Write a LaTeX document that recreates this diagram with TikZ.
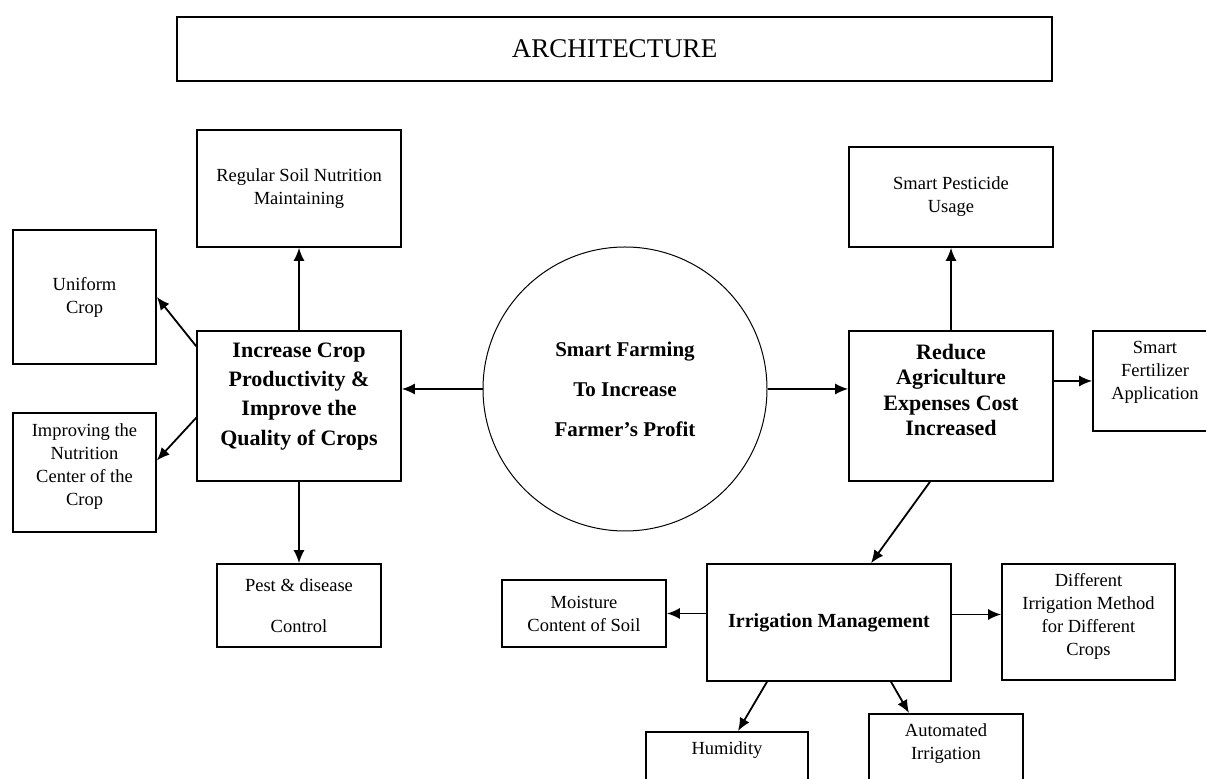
\documentclass[tikz,border=0pt]{standalone}
\usepackage{fontspec}
\setmainfont{Liberation Serif}
\usetikzlibrary{arrows.meta}

\tikzset{
  smallbox/.style={draw, line width=0.8pt, align=center, inner sep=2pt,
    font=\fontsize{9.25}{11.5}\selectfont},
  mainbox/.style={draw, line width=0.8pt, align=center, inner sep=2pt,
    font=\fontsize{11}{14.6}\selectfont\bfseries},
  openbox/.style={smallbox, anchor=north, inner ysep=5pt, text depth=40pt},
  link/.style={-{Latex[length=6.5pt,width=5.5pt]}, line width=0.9pt}
}

\begin{document}
\begin{tikzpicture}[x=0.5pt, y=-0.5pt]
    \useasboundingbox (0,0) rectangle (1206,779);
    \clip (0,0) rectangle (1206,779);

    % title
    \node[draw, line width=0.7pt, minimum width=437.5pt, minimum height=32pt,
      font=\fontsize{13.5}{16}\selectfont] (title) at (614.5,49) {ARCHITECTURE};

    % centre
    \node[circle, draw, line width=0.5pt, minimum size=142pt, inner sep=0pt, align=center,
      font=\fontsize{10.5}{20}\selectfont\bfseries] (farm) at (625,389)
      {Smart Farming\\To Increase\\Farmer’s Profit};

    % left branch
    \node[mainbox, minimum width=102pt, minimum height=75pt, text depth=12pt] (increase) at (299,406)
      {Increase Crop\\Productivity \&\\Improve the\\Quality of Crops};
    \node[smallbox, minimum width=102pt, minimum height=58.5pt] (soil) at (299,188.5)
      {Regular Soil Nutrition\\Maintaining};
    \node[smallbox, minimum width=71.5pt, minimum height=67pt] (uniform) at (84.5,297) {Uniform\\Crop};
    \node[smallbox, minimum width=71.5pt, minimum height=59.5pt, text depth=7.5pt] (improving) at (84.5,472.5)
      {Improving the\\Nutrition\\Center of the\\Crop};
    \node[smallbox, minimum width=82pt, minimum height=41.5pt] (pest) at (299,605.5)
      {Pest \& disease\\[9pt]Control};

    % right branch
    \node[mainbox, minimum width=102pt, minimum height=75pt, text depth=16pt,
      font=\fontsize{11}{12.7}\selectfont\bfseries] (reduce) at (951,406)
      {Reduce\\Agriculture\\Expenses Cost\\Increased};
    \node[smallbox, minimum width=102pt, minimum height=50pt] (pesticide) at (951,197)
      {Smart Pesticide\\Usage};
    \node[smallbox, minimum width=62pt, minimum height=50pt, text depth=11pt] (fert) at (1155,381)
      {Smart\\Fertilizer\\Application};

    % irrigation
    \node[mainbox, minimum width=122pt, minimum height=58.5pt,
      font=\fontsize{10}{12}\selectfont\bfseries] (irrig) at (829,622.5) {Irrigation Management};
    \node[smallbox, minimum width=82pt, minimum height=33.5pt] (moisture) at (584,613.5)
      {Moisture\\Content of Soil};
    \node[smallbox, minimum width=86.5pt, minimum height=58pt, text depth=8pt] (different) at (1088.5,622)
      {Different\\Irrigation Method\\for Different\\Crops};
    \node[openbox, minimum width=81pt] (humidity) at (727,731) {Humidity};
    \node[openbox, minimum width=77pt] (automated) at (946,713) {Automated\\Irrigation};

    % arrows
    \draw[link] (increase.north) -- (soil.south);
    \draw[link] ([yshift=-8pt]increase.north west) -- (uniform.east);
    \draw[link] ([yshift=32pt]increase.south west) -- ([yshift=6pt]improving.east);
    \draw[link] (increase.south) -- (pest.north);
    \draw[link] (farm.west) -- (farm.west -| increase.east);
    \draw[link] (farm.east) -- (farm.east -| reduce.west);
    \draw[link] (reduce.north) -- (pesticide.south);
    \draw[link] (fert.west -| reduce.east) -- (fert.west);
    \draw[link] ([xshift=-10.5pt]reduce.south) -- ([xshift=21pt]irrig.north);
    \draw[link] (moisture.east -| irrig.west) -- (moisture.east);
    \draw[link] ([yshift=4pt]irrig.east) -- ([yshift=4pt]irrig.east -| different.west);
    \draw[link] ([xshift=-31pt]irrig.south) -- ([xshift=5.5pt]humidity.north);
    \draw[link] ([xshift=31pt]irrig.south) -- ([xshift=-18.5pt]automated.north);
\end{tikzpicture}
\end{document}
